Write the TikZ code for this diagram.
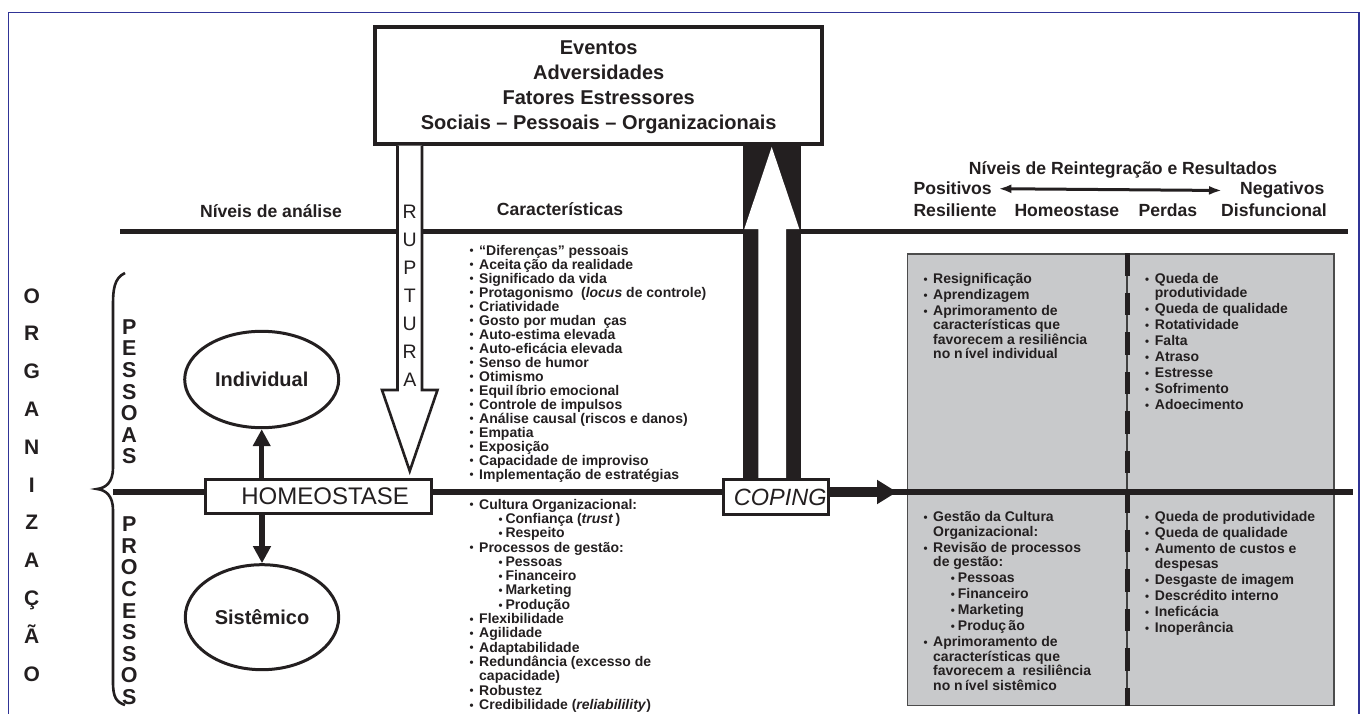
\documentclass[tikz,border=0pt]{standalone}
\usepackage{fontspec}
\setmainfont{Liberation Sans}
\usetikzlibrary{arrows.meta,shapes.geometric}
\definecolor{ink}{RGB}{35,31,32}
\definecolor{frameblue}{RGB}{48,52,150}
\definecolor{boxgray}{RGB}{200,201,203}
\newcommand\lbulglyph{\raisebox{0.2pt}{\fontsize{11.5}{11.5}\selectfont •}}
\newcommand\lbul{\makebox[9.7pt][l]{\lbulglyph}}
\newcommand\lsub[1]{\hspace*{#1}\makebox[7pt][l]{\lbulglyph}}
\newcommand\lcont{\hspace*{9.7pt}}
\newcommand\lgap{\\[1.5pt]}
\begin{document}
\begin{tikzpicture}[x=1pt,y=-1pt,
  every node/.style={inner sep=0pt,text=ink},
  lst/.style={anchor=north west, align=left, font=\fontsize{14}{#1}\selectfont\bfseries},
  lst/.default=14,
  hdr/.style={font=\fontsize{17.6}{20}\selectfont\bfseries},
  bigtxt/.style={font=\fontsize{24}{24}\selectfont},
  evbox/.style={draw=ink, line width=4pt, fill=white},
  flowbox/.style={draw=ink, line width=3pt, fill=white},
  oval/.style={ellipse, draw=ink, line width=3pt, fill=white, font=\fontsize{20}{20}\selectfont\bfseries},
  updown/.style={ink, line width=5.5pt, -{Triangle[length=17pt, width=17pt]}},
  dblarrow/.style={ink, line width=3pt, {Latex[length=13pt,width=9pt]}-{Latex[length=13pt,width=9pt]}},
  copar/.style={ink, line width=10pt, -{Triangle[length=20pt,width=23pt]}},
  levelline/.style={ink, line width=#1},
  bracepath/.style={ink, line width=2.6pt},
]
\useasboundingbox (0,0) rectangle (1362,714);
% blue frame
\draw[frameblue, line width=1.5pt] (8.3,714) -- (8.3,12.3) -- (1359,12.3) -- (1359,714);

% result panel
\node[draw=black!70, fill=boxgray, line width=1.3pt, anchor=north west,
      minimum width=426.6pt, minimum height=451.7pt] (res) at (906.7,253.3) {};
\coordinate (dtop) at (1127,253.3);
\coordinate (dbot) at (1127,706);
\draw[black!75, line width=1.2pt] (dtop) -- (dbot);
\draw[ink, line width=5pt, dash pattern=on 22.5pt off 17pt] (dtop) -- (dbot);

% level lines
\coordinate (l1a) at (120,231.5);
\coordinate (l1b) at (1348,231.5);
\draw[levelline=5.5pt] (l1a) -- (l1b);
\coordinate (l2a) at (113,492);
\coordinate (l2b) at (1353,492);
\draw[levelline=6pt] (l2a) -- (l2b);

% brace
\draw[bracepath] (125,273) .. controls (114,278) and (113,290) .. (113,305) -- (113,468)
  .. controls (113,482) and (106,488) .. (97,489)
  .. controls (106,490) and (113,496) .. (113,510) -- (113,682)
  .. controls (113,697) and (116,702) .. (125,705);

% events box
\node[evbox, minimum width=447pt, minimum height=117pt] (ev) at (598.7,85.3) {};
\node[anchor=north, align=center, font=\fontsize{20}{25}\selectfont\bfseries] (evtext) at (598.7,40.7)
  {Eventos\\Adversidades\\Fatores Estressores\\Sociais – Pessoais – Organizacionais};

% RUPTURA arrow
\path[draw=ink, line width=2.6pt, fill=white, line join=miter]
  (397.5,145.7) -- (397.5,390) -- (382,390) -- (409.75,471) -- (437.5,390) -- (422,390) -- (422,145.7);
\node[anchor=north, align=center, font=\fontsize{19.5}{28}\selectfont] (rup) at (409.75,205)
  {R\\U\\P\\T\\U\\R\\A};

% COPING arrow (white arrow in black column)
\fill[ink] (743.3,145.7) rectangle (800.7,478.3);
\fill[white] (758.3,478.3) -- (758.3,229) -- (744.3,229) -- (771.7,147) -- (799.3,229) -- (786,229) -- (786,478.3) -- cycle;

% boxes on main line
\node[flowbox, bigtxt, minimum width=225.7pt, minimum height=34pt] (hom) at (318.2,496.7) {\hspace*{14pt}HOMEOSTASE};
\node[flowbox, font=\fontsize{23.5}{23.5}\selectfont\itshape, minimum width=105pt, minimum height=35.3pt] (cop) at (776.2,497.3) {\hspace*{8pt}COPING};
\coordinate (cophead) at (897,492);
\draw[copar] (cop.east |- cophead) -- (cophead);

% ellipses
\node[oval, minimum width=154pt, minimum height=96.4pt] (ind) at (261.7,379.5) {Individual};
\node[oval, minimum width=153.4pt, minimum height=105pt] (sis) at (262,617.2) {Sistêmico};
\draw[updown] (ind.south |- hom.north) -- (ind.south);
\draw[updown] (sis.north |- hom.south) -- (sis.north);

% vertical words
\node[anchor=north, align=center, font=\fontsize{21}{37.8}\selectfont\bfseries] (org) at (31.7,288.3)
  {O\\R\\G\\A\\N\\I\\Z\\A\\Ç\\Ã\\O};
\node[anchor=north, align=center, font=\fontsize{21.5}{21.6}\selectfont\bfseries] (pes) at (129.2,319.3)
  {P\\E\\S\\S\\O\\A\\S};
\node[anchor=north, align=center, font=\fontsize{21.5}{21.6}\selectfont\bfseries] (pro) at (129.2,516.7)
  {P\\R\\O\\C\\E\\S\\S\\O\\S};

% column headings
\node[hdr, anchor=base] (niv) at (271,218) {Níveis de análise};
\node[hdr, anchor=base] (car) at (560,215) {Características};
\node[hdr, anchor=base] (nrr) at (1123,175) {Níveis de Reintegração e Resultados};
\node[hdr, anchor=base west] (pos) at (913.3,195) {Positivos};
\node[hdr, anchor=base east] (neg) at (1324.5,195) {Negativos};
\draw[dblarrow] ([xshift=6.5pt]pos.east) -- ([xshift=-18pt]neg.west);
\node[hdr, anchor=base west] (r1) at (913.3,217) {Resiliente};
\node[hdr, anchor=base west] (r2) at (1014.3,217) {Homeostase};
\node[hdr, anchor=base west] (r3) at (1138.3,217) {Perdas};
\node[hdr, anchor=base east] (r4) at (1327,217) {Disfuncional};

% characteristics lists
\node[lst=14] (chp) at (469.3,244.8) {%
\lbul “Diferenças” pessoais\\
\lbul Aceita\,ção da realidade\\
\lbul Significado da vida\\
\lbul Protagonismo\ \ (\textit{locus} de controle)\\
\lbul Criatividade\\
\lbul Gosto por mudan\ \ ças\\
\lbul Auto-estima elevada\\
\lbul Auto-eficácia elevada\\
\lbul Senso de humor\\
\lbul Otimismo\\
\lbul Equil\,íbrio emocional\\
\lbul Controle de impulsos\\
\lbul Análise causal (riscos e danos)\\
\lbul Empatia\\
\lbul Exposição\\
\lbul Capacidade de improviso\\
\lbul Implementação de estratégias};

\node[lst=14.3] (chs) at (469.3,498.8) {%
\lbul Cultura Organizacional:\\
\lsub{29pt}Confiança (\textit{trust}\,)\\
\lsub{29pt}Respeito\\
\lbul Processos de gestão:\\
\lsub{29pt}Pessoas\\
\lsub{29pt}Financeiro\\
\lsub{29pt}Marketing\\
\lsub{29pt}Produção\\
\lbul Flexibilidade\\
\lbul Agilidade\\
\lbul Adaptabilidade\\
\lbul Redundância (excesso de\\
\lcont capacidade)\\
\lbul Robustez\\
\lbul Credibilidade (\textit{reliabilility})};

% result lists
\node[lst=14.5] (rpp) at (923.3,273.1) {%
\lbul Resignificação\lgap
\lbul Aprendizagem\lgap
\lbul Aprimoramento de\\
\lcont características que\\
\lcont favorecem a resiliência\\
\lcont no n\,ível individual};

\node[lst=14.5] (rpn) at (1145,273.1) {%
\lbul Queda de\\
\lcont produtividade\lgap
\lbul Queda de qualidade\lgap
\lbul Rotatividade\lgap
\lbul Falta\lgap
\lbul Atraso\lgap
\lbul Estresse\lgap
\lbul Sofrimento\lgap
\lbul Adoecimento};

\node[lst=14.5] (rsp) at (923.3,511.5) {%
\lbul Gestão da Cultura\\
\lcont Organizacional:\lgap
\lbul Revisão de processos\\
\lcont de gestão:\lgap
\lsub{27.4pt}Pessoas\lgap
\lsub{27.4pt}Financeiro\lgap
\lsub{27.4pt}Marketing\lgap
\lsub{27.4pt}Produç\,ão\lgap
\lbul Aprimoramento de\\
\lcont características que\\
\lcont favorecem a\ \ resiliência\\
\lcont no n\,ível sistêmico};

\node[lst=14.5] (rsn) at (1145,511.5) {%
\lbul Queda de produtividade\lgap
\lbul Queda de qualidade\lgap
\lbul Aumento de custos e\\
\lcont despesas\lgap
\lbul Desgaste de imagem\lgap
\lbul Descrédito interno\lgap
\lbul Ineficácia\lgap
\lbul Inoperância};
\end{tikzpicture}
\end{document}
